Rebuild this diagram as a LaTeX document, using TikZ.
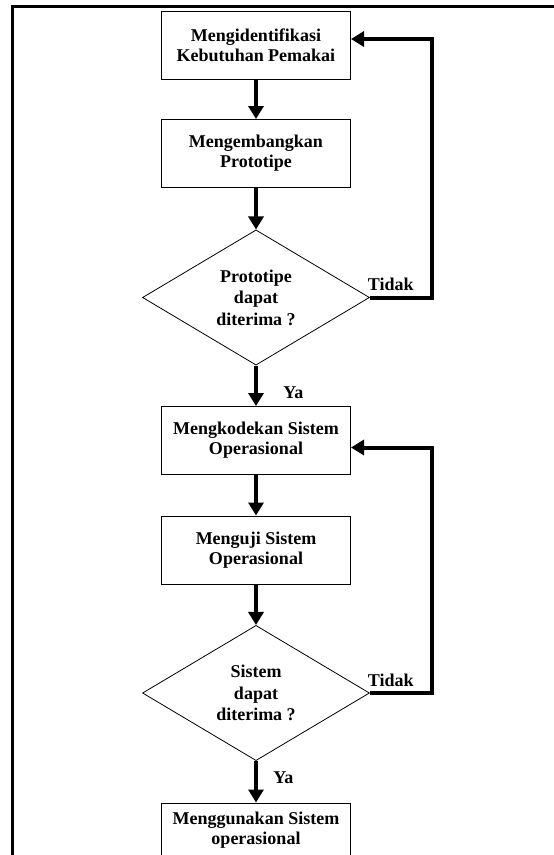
\documentclass[tikz,border=0pt]{standalone}
\usepackage{fontspec}
\setmainfont{Liberation Serif}
\usetikzlibrary{shapes.geometric,arrows.meta}

\begin{document}
\begin{tikzpicture}[x=1pt,y=-1pt,
  font=\bfseries\fontsize{18}{20}\selectfont,
  box/.style={draw,line width=1pt,minimum width=189pt,minimum height=68pt,align=center,inner sep=0pt},
  cond/.style={draw,diamond,line width=.8pt,minimum width=227pt,minimum height=135pt,align=center,inner sep=0pt,
    font=\bfseries\fontsize{18}{21.5}\selectfont},
  flow/.style={line width=4pt,-{Triangle[width=15pt,length=13pt]}}]
\useasboundingbox (0,0) rectangle (554,855);
\clip (0,0) rectangle (554,855);
\draw[line width=3pt] (554,6) -- (12,6) -- (12,855);
\node[box](Id) at (256,45) {Mengidentifikasi\\Kebutuhan Pemakai};
\node[box](Dev) at (256,153.5) {Mengembangkan\\Prototipe};
\node[cond](OkP) at (256,297.5) {Prototipe\\dapat\\diterima ?};
\node[box](Code) at (256,440.5) {Mengkodekan Sistem\\Operasional};
\node[box](Test) at (256,550) {Menguji Sistem\\Operasional};
\node[cond](OkS) at (256,693) {Sistem\\dapat\\diterima ?};
\node[box,minimum height=54pt](Use) at (256,830) {Menggunakan Sistem\\operasional};
\coordinate (R) at (432,0);
\path[flow]
(Id) edge (Dev)
(Dev) edge (OkP)
(OkP) edge node[pos=.67,right=22pt]{Ya} (Code)
(Code) edge (Test)
(Test) edge (OkS)
(OkS) edge node[pos=.4,right=12pt]{Ya} (Use);
\draw[flow] (OkP.east) -- node[pos=0,anchor=base west,inner sep=0pt,xshift=-4pt,yshift=7pt]{Tidak} (OkP.east -| R) |- ([yshift=6pt]Id.east);
\draw[flow] (OkS.east) -- node[pos=0,anchor=base west,inner sep=0pt,xshift=-4pt,yshift=7pt]{Tidak} (OkS.east -| R) |- ([yshift=-7pt]Code.east);
\end{tikzpicture}
\end{document}
